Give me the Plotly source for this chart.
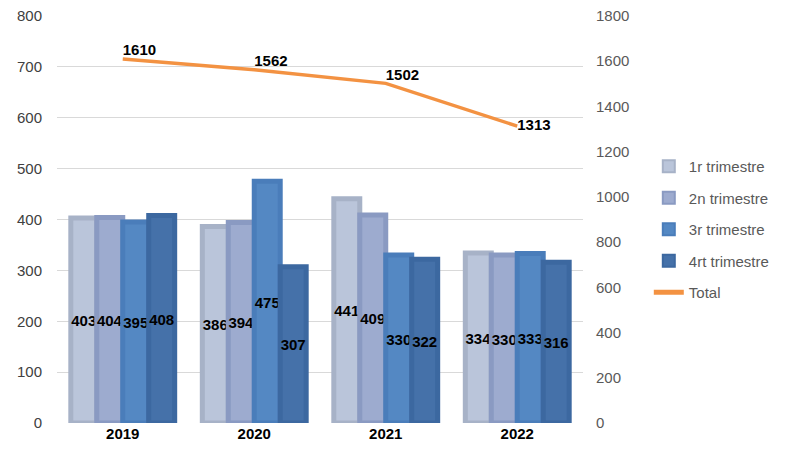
import plotly.graph_objects as go

years = ["2019", "2020", "2021", "2022"]
q1 = [403, 386, 441, 334]
q2 = [404, 394, 409, 330]
q3 = [395, 475, 330, 333]
q4 = [408, 307, 322, 316]
total = [1610, 1562, 1502, 1313]

series_names = ["1r trimestre", "2n trimestre", "3r trimestre", "4rt trimestre"]
fill_colors = ["#bac5da", "#9dabcf", "#5488c3", "#4571a9"]
edge_colors = ["#a7b2c7", "#8a9ac2", "#4a7dba", "#3c68a0"]

FONT = "Liberation Sans"

fig = go.Figure()
for i, (name, vals, fc, ec) in enumerate(zip(series_names, [q1, q2, q3, q4], fill_colors, edge_colors)):
    fig.add_trace(go.Bar(
        x=years, y=vals, name=name, legendgroup=f"g{i}",
        marker=dict(color=fc, line=dict(color=ec, width=5)),
        text=[str(v) for v in vals], textposition="inside",
        insidetextanchor="middle", constraintext="none",
        textfont=dict(family=FONT, size=15, color="#000000", weight="bold"),
        textangle=0,
        yaxis="y",
    ))

fig.add_trace(go.Scatter(
    x=years, y=total, name="Total", mode="lines+text", legendgroup="g4",
    line=dict(color="#f39242", width=3.5),
    text=[str(v) for v in total],
    textposition=["top right", "top right", "top right", "middle right"],
    textfont=dict(family=FONT, size=15, color="#000000", weight="bold"),
    cliponaxis=False,
    yaxis="y2",
))

# page body adds an 8px offset; margins compensate for it
fig.update_layout(
    width=800, height=450,
    margin=dict(l=49, r=225, t=8, b=35),
    paper_bgcolor="white", plot_bgcolor="white",
    font=dict(family=FONT, size=15, color="#595959"),
    barmode="group", bargap=0.21, bargroupgap=0,
    xaxis=dict(
        type="category", showgrid=False, showline=False, ticks="", automargin=False,
        tickfont=dict(size=15, color="#000000", weight="bold"),
    ),
    yaxis=dict(
        range=[0, 800], dtick=100, showgrid=True, gridcolor="#d9d9d9", gridwidth=1,
        zeroline=False, showline=False, ticks="", ticklabelstandoff=14, automargin=False,
        ticklabeloverflow="allow", tickfont=dict(color="#404040"),
    ),
    yaxis2=dict(
        range=[0, 1800], dtick=200, overlaying="y", side="right", automargin=False,
        showgrid=False, zeroline=False, showline=False, ticks="", ticklabelstandoff=12,
        ticklabeloverflow="allow", tickfont=dict(color="#595959"),
    ),
    legend=dict(
        xref="container", yref="container",
        x=0.801, y=1 - 142 / 450, xanchor="left", yanchor="top",
        font=dict(size=15, color="#595959"),
        tracegroupgap=9, itemsizing="constant",
        traceorder="grouped",
    ),
    showlegend=True,
)

fig.write_html("out.html")
